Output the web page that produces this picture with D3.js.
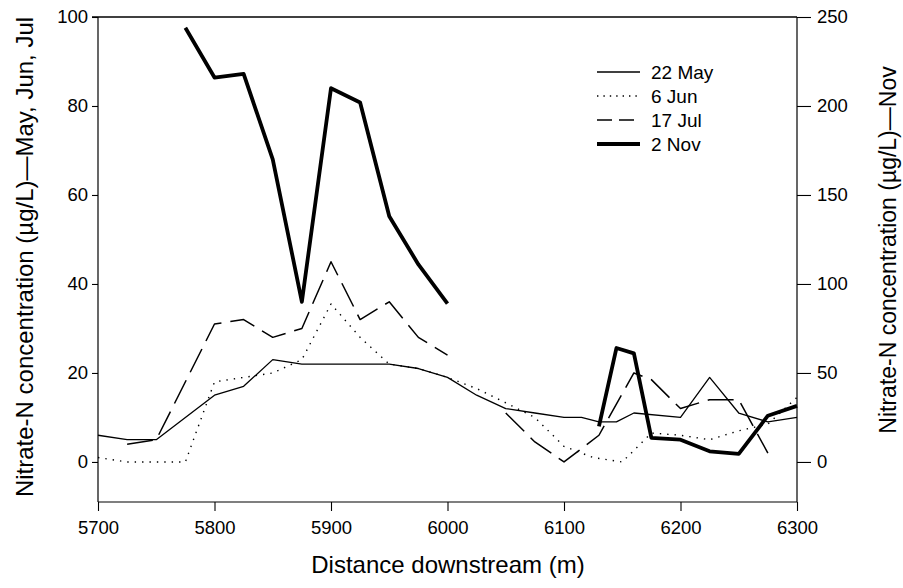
<!DOCTYPE html>
<html>
<head>
<meta charset="utf-8">
<script src="https://cdn.jsdelivr.net/npm/d3@7"></script>
<style>
  body { margin: 0; background: #fff; }
  svg text { font-family: "Liberation Sans", Arial, Helvetica, sans-serif; fill: #000; }
</style>
</head>
<body>
<div id="chart"></div>
<script>
// distances (m) and nitrate-N values (ug/L)
var mayDist = [5700,5725,5750,5800,5825,5850,5875,5900,5925,5950,5975,6000,6025,6050,6075,6100,6115,6130,6145,6160,6200,6225,6250,6275,6300];
var mayVals = [6,5,5,15,17,23,22,22,22,22,21,19,15,12,11,10,10,9,9,11,10,19,11,9,10];

var junDist = [5700,5725,5750,5775,5800,5825,5850,5875,5900,5925,5950,5975,6000,6025,6050,6075,6100,6125,6150,6175,6200,6225,6250,6275,6300];
var junVals = [1,0,0,0,18,19,20,23,35.5,28,22,21,19,16.5,13.3,10,3.5,1,0,6.5,6,5,7,8.5,14.5];

var julDist = [5725,5750,5800,5825,5850,5875,5900,5925,5950,5975,6000,6025,6050,6075,6100,6130,6160,6175,6200,6225,6250,6275];
var julVals = [4,5,31,32,28,30,45,32,36,28,24,null,11,4.5,0,6,20,18.5,12,14,14,2];

// November plotted on the right-hand axis
var novDist = [5775,5800,5825,5850,5875,5900,5925,5950,5975,6000,6065,6130,6145,6160,6175,6200,6225,6250,6275,6300];
var novVals = [244,216,218,170,90,210,202,138,111,89,null,20,64,61,13.5,12.5,6,4.5,26,31.5];

var xTicks = [5700,5800,5900,6000,6100,6200,6300];
var leftTicks = [0,20,40,60,80,100];
var rightTicks = [0,50,100,150,200,250];

var width = 903, height = 588;
var margin = {top: 17, right: 106, bottom: 86, left: 98};
var w = width - margin.left - margin.right;
var h = height - margin.top - margin.bottom;

var svg = d3.select('#chart').append('svg')
    .attr('width', width)
    .attr('height', height);

var g = svg.append('g')
    .attr('transform', 'translate(' + margin.left + ',' + margin.top + ')');

var x = d3.scaleLinear().domain([5700, 6300]).range([0, w]);
var yL = d3.scaleLinear().domain([-9, 100]).range([h, 0]);
var yR = d3.scaleLinear().domain([-22.5, 250]).range([h, 0]);

// axes
var xAxis = g.append('g')
    .attr('transform', 'translate(0,' + h + ')')
    .call(d3.axisBottom(x).tickValues(xTicks).tickSize(9).tickPadding(10).tickFormat(d3.format('d')));

var lAxis = g.append('g')
    .call(d3.axisLeft(yL).tickValues(leftTicks).tickSize(6).tickPadding(4));

var rAxis = g.append('g')
    .attr('transform', 'translate(' + w + ',0)')
    .call(d3.axisRight(yR).tickValues(rightTicks).tickSize(14).tickPadding(6));

[xAxis, lAxis, rAxis].forEach(function(a){
    a.select('.domain').attr('stroke', '#000').attr('stroke-width', 1.2);
    a.selectAll('.tick line').attr('stroke', '#000').attr('stroke-width', 1.1);
    a.selectAll('.tick text')
        .style('font-size', '18.5px')
        .style('font-family', '"Liberation Sans", Arial, sans-serif');
});
xAxis.select('.domain').attr('d', 'M0,0H' + w);
lAxis.select('.domain').attr('d', 'M0,0V' + h);
rAxis.select('.domain').attr('d', 'M0,0V' + h);

// top border
g.append('line')
    .attr('x1', -6).attr('x2', w)
    .attr('y1', 0).attr('y2', 0)
    .attr('stroke', '#000').attr('stroke-width', 1.6);

// series
var series = [
    {name: '22 May', dist: mayDist, vals: mayVals, y: yL, width: 1.3, dash: null, legDash: null},
    {name: '6 Jun', dist: junDist, vals: junVals, y: yL, width: 1.4, dash: '1.4,6', legDash: '1.4,5'},
    {name: '17 Jul', dist: julDist, vals: julVals, y: yL, width: 1.5, dash: '26,9', legDash: '15,7'},
    {name: '2 Nov', dist: novDist, vals: novVals, y: yR, width: 3.8, dash: null, legDash: null}
];

series.forEach(function(s){
    var pts = s.dist.map(function(d, i){ return [d, s.vals[i]]; });
    var line = d3.line()
        .defined(function(d){ return d[1] !== null; })
        .x(function(d){ return x(d[0]); })
        .y(function(d){ return s.y(d[1]); });
    g.append('path')
        .datum(pts)
        .attr('d', line)
        .attr('fill', 'none')
        .attr('stroke', '#000')
        .attr('stroke-width', s.width)
        .attr('stroke-linejoin', 'round')
        .attr('stroke-dasharray', s.dash);
});

// legend
var legend = svg.append('g').attr('transform', 'translate(597,72)');
series.forEach(function(s, i){
    var row = legend.append('g').attr('transform', 'translate(0,' + (i * 24) + ')');
    row.append('line')
        .attr('x1', 0).attr('x2', 43)
        .attr('y1', 0).attr('y2', 0)
        .attr('stroke', '#000')
        .attr('stroke-width', s.width)
        .attr('stroke-dasharray', s.legDash);
    row.append('text')
        .attr('x', 54).attr('y', 7)
        .style('font-size', '19px')
        .text(s.name);
});

// axis titles
svg.append('text')
    .attr('transform', 'translate(33,257) rotate(-90)')
    .attr('text-anchor', 'middle')
    .style('font-size', '24px')
    .text('Nitrate-N concentration (µg/L)—May, Jun, Jul');

svg.append('text')
    .attr('transform', 'translate(896,250) rotate(-90)')
    .attr('text-anchor', 'middle')
    .style('font-size', '23px')
    .text('Nitrate-N concentration (µg/L)—Nov');

svg.append('text')
    .attr('x', 448).attr('y', 573)
    .attr('text-anchor', 'middle')
    .style('font-size', '24px')
    .text('Distance downstream (m)');
</script>
</body>
</html>
